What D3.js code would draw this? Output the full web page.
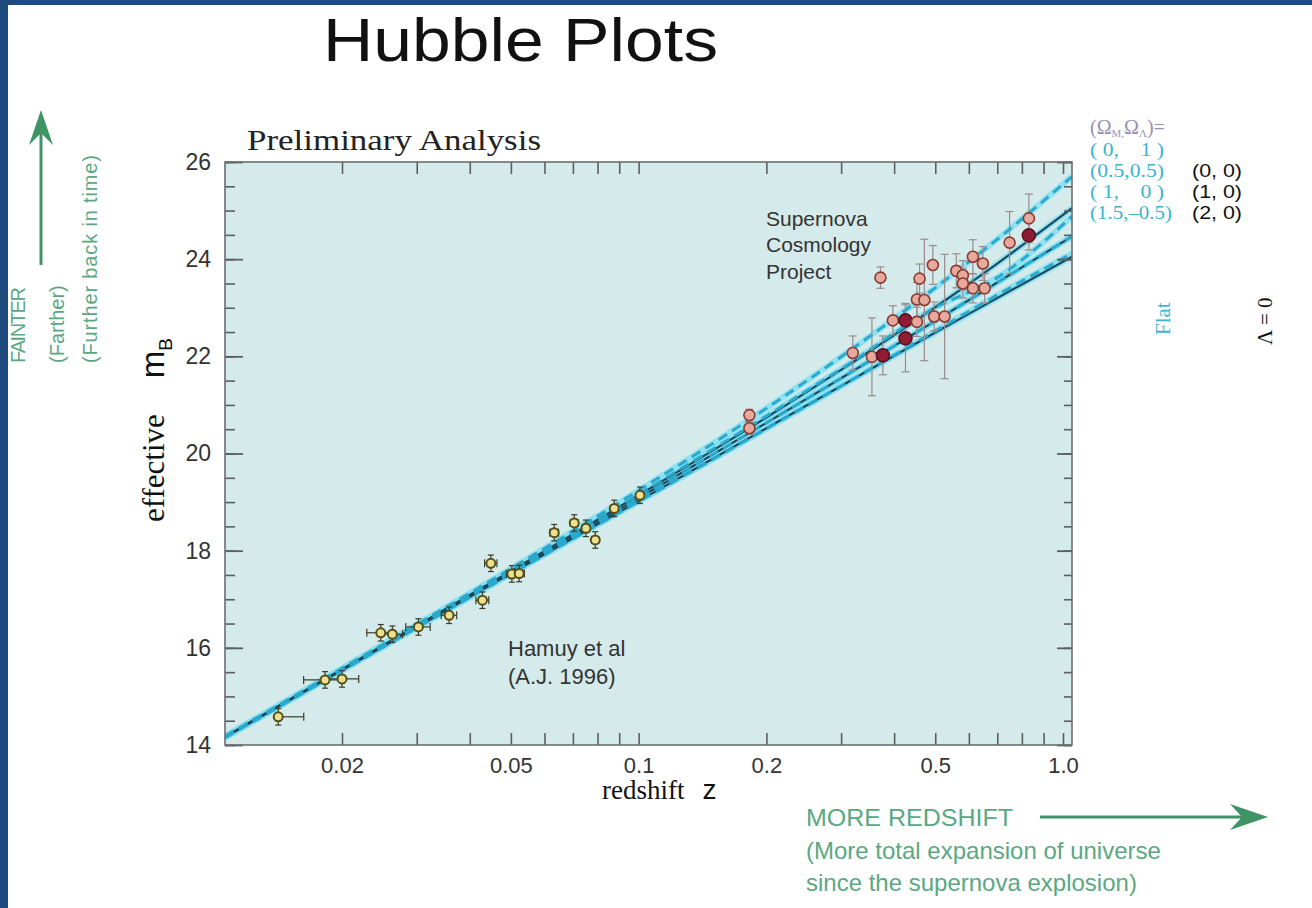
<!DOCTYPE html>
<html><head><meta charset="utf-8">
<script src="https://cdn.jsdelivr.net/npm/d3@7"></script>
<style>body{margin:0;background:#fff}svg{display:block}</style>
</head><body><svg id="c" width="1312" height="908"></svg>
<script>
// ---------- data ----------
const zCurve = [0.0106, 0.02, 0.05, 0.1, 0.2, 0.3, 0.5, 0.7, 1.05];
const flat_0_1    = [14.18, 15.58, 17.63, 19.24, 20.93, 21.99, 23.41, 24.41, 25.70];
const flat_05_05  = [14.17, 15.56, 17.59, 19.16, 20.77, 21.74, 23.00, 23.62, 24.88];
const flat_1_0    = [14.16, 15.55, 17.55, 19.08, 20.63, 21.55, 22.73, 23.52, 24.47];
const flat_15_m05 = [14.15, 15.53, 17.52, 19.01, 20.51, 21.39, 22.52, 23.26, 24.12];
const open_0_0    = [14.17, 15.56, 17.58, 19.14, 20.74, 21.72, 23.01, 23.91, 25.05];
const lam0_1_0    = [14.16, 15.55, 17.55, 19.08, 20.63, 21.55, 22.73, 23.52, 24.47];
const lam0_2_0    = [14.16, 15.54, 17.53, 19.02, 20.52, 21.39, 22.49, 23.20, 24.05];

const hamuyZ = [0.01415,0.01824,0.0200,0.02468,0.02628,0.03027,0.03576,0.04285,0.04485,0.05026,0.05230,0.06325,0.07051,0.07513,0.07903,0.0876,0.1007];
const hamuyM = [14.58,15.34,15.36,16.31,16.28,16.43,16.67,16.98,17.74,17.52,17.53,18.37,18.57,18.46,18.22,18.87,19.14];
const hamuyZErrLo = [0,0.0020,0.0019,0.0018,0.0015,0.0020,0.0015,0.0015,0.0015,0.0015,0.0015,0.0015,0.0015,0.0015,0.0015,0.0015,0.0015];
const hamuyZErrHi = [0.0021,0.0020,0.0019,0.0018,0.0015,0.0020,0.0015,0.0015,0.0015,0.0015,0.0015,0.0015,0.0015,0.0015,0.0015,0.0015,0.0015];
const hamuyMErr = [0.17,0.17,0.17,0.17,0.17,0.17,0.17,0.17,0.17,0.17,0.17,0.17,0.17,0.17,0.17,0.17,0.17];

const scpZ = [0.1824,0.1824,0.3196,0.3546,0.3714,0.3763,0.3973,0.4254,0.4254,0.4527,0.4527,0.4592,0.4713,0.4936,0.497,0.526,0.5604,0.5808,0.5808,0.6133,0.6133,0.6474,0.6536,0.7484,0.831,0.831];
const scpM = [20.79,20.52,22.07,21.99,23.62,22.02,22.74,22.37,22.74,22.71,23.17,23.60,23.16,23.88,22.82,22.82,23.76,23.67,23.50,24.05,23.40,23.91,23.40,24.34,24.84,24.49];
const scpMErr = [0.12,0.12,0.35,0.8,0.22,0.4,0.3,0.69,0.35,0.3,0.35,0.3,1.25,0.4,0.3,1.28,0.35,0.3,0.3,0.35,0.3,0.35,0.3,0.64,0.5,0.3];
const scpFilled = [0,0,0,0,0,1,0,1,1,0,0,0,0,0,0,0,0,0,0,0,0,0,0,0,0,1];

const yTicksMajor = [14,16,18,20,22,24,26];
const xTickLabels = [0.02,0.05,0.1,0.2,0.5,1.0];
const xTickText = ["0.02","0.05","0.1","0.2","0.5","1.0"];
const xTicksAll = [0.02,0.03,0.04,0.05,0.06,0.07,0.08,0.09,0.1,0.2,0.3,0.4,0.5,0.6,0.7,0.8,0.9,1.0];

// ---------- setup ----------
const svg = d3.select("#c");
const L=225, R=1072, T=162, B=745;
const x = d3.scaleLog().domain([0.0106, 1.05]).range([L, R]);
const y = d3.scaleLinear().domain([14, 26]).range([B, T]);
const serif = "Liberation Serif, Times New Roman, serif";
const sans = "Liberation Sans, Arial, sans-serif";

// frame of slide
svg.append("rect").attr("x",0).attr("y",0).attr("width",1312).attr("height",908).attr("fill","#1e4a7e");
svg.append("rect").attr("x",8).attr("y",5).attr("width",1304).attr("height",903).attr("fill","#ffffff");

// title
svg.append("text").attr("x",323).attr("y",61).attr("font-family",sans)
  .attr("font-size",61).attr("fill","#111").attr("textLength",395).attr("lengthAdjust","spacingAndGlyphs").text("Hubble Plots");

// plot background
svg.append("rect").attr("x",L).attr("y",T).attr("width",R-L).attr("height",B-T).attr("fill","#d5eaea");
svg.append("clipPath").attr("id","pc").append("rect").attr("x",L).attr("y",T).attr("width",R-L).attr("height",B-T);

const g = svg.append("g").attr("clip-path","url(#pc)");
const line = d3.line().x(d=>x(d[0])).y(d=>y(d[1])).curve(d3.curveMonotoneX);
const mk = arr => zCurve.map((z,i)=>[z,arr[i]]);

const dashed = [flat_0_1, flat_05_05, flat_1_0, flat_15_m05];
const solid = [open_0_0, lam0_1_0, lam0_2_0];
[...dashed, ...solid].forEach(a=>{
  g.append("path").attr("d",line(mk(a))).attr("fill","none").attr("stroke","#7fe0f2").attr("stroke-width",6).attr("stroke-opacity",0.8);
});
solid.forEach(a=>{
  g.append("path").attr("d",line(mk(a))).attr("fill","none").attr("stroke","#1b4a5e").attr("stroke-width",2.2);
});
dashed.forEach(a=>{
  g.append("path").attr("d",line(mk(a))).attr("fill","none").attr("stroke","#2aa9cc").attr("stroke-width",3).attr("stroke-dasharray","10,6");
});

// Hamuy error bars + points
const hg = svg.append("g");
hamuyZ.forEach((z,i)=>{
  const cx=x(z), cy=y(hamuyM[i]);
  const x0=x(z-hamuyZErrLo[i]), x1=x(z+hamuyZErrHi[i]);
  const y0=y(hamuyM[i]-hamuyMErr[i]), y1=y(hamuyM[i]+hamuyMErr[i]);
  const s="#3c3c2c";
  hg.append("line").attr("x1",x0).attr("x2",x1).attr("y1",cy).attr("y2",cy).attr("stroke",s).attr("stroke-width",1.2);
  if (hamuyZErrLo[i]>0) hg.append("line").attr("x1",x0).attr("x2",x0).attr("y1",cy-4).attr("y2",cy+4).attr("stroke",s).attr("stroke-width",1.2);
  hg.append("line").attr("x1",x1).attr("x2",x1).attr("y1",cy-4).attr("y2",cy+4).attr("stroke",s).attr("stroke-width",1.2);
  hg.append("line").attr("x1",cx).attr("x2",cx).attr("y1",y0).attr("y2",y1).attr("stroke",s).attr("stroke-width",1.2);
  hg.append("line").attr("x1",cx-3).attr("x2",cx+3).attr("y1",y0).attr("y2",y0).attr("stroke",s).attr("stroke-width",1.2);
  hg.append("line").attr("x1",cx-3).attr("x2",cx+3).attr("y1",y1).attr("y2",y1).attr("stroke",s).attr("stroke-width",1.2);
});
hamuyZ.forEach((z,i)=>{
  hg.append("circle").attr("cx",x(z)).attr("cy",y(hamuyM[i])).attr("r",4.5)
    .attr("fill","#ece08e").attr("stroke","#55501a").attr("stroke-width",2);
});

// SCP error bars + points
const sg = svg.append("g");
scpZ.forEach((z,i)=>{
  const cx=x(z);
  const y0=y(scpM[i]-scpMErr[i]), y1=y(scpM[i]+scpMErr[i]);
  const s="#9a8c8c";
  sg.append("line").attr("x1",cx).attr("x2",cx).attr("y1",y0).attr("y2",y1).attr("stroke",s).attr("stroke-width",1.2);
  sg.append("line").attr("x1",cx-4).attr("x2",cx+4).attr("y1",y0).attr("y2",y0).attr("stroke",s).attr("stroke-width",1.2);
  sg.append("line").attr("x1",cx-4).attr("x2",cx+4).attr("y1",y1).attr("y2",y1).attr("stroke",s).attr("stroke-width",1.2);
});
scpZ.forEach((z,i)=>{
  const f = scpFilled[i]===1;
  sg.append("circle").attr("cx",x(z)).attr("cy",y(scpM[i])).attr("r",f?6.5:5.5)
    .attr("fill",f?"#8e1c34":"#e6a99c").attr("stroke",f?"#5a1020":"#8a3a30").attr("stroke-width",1.6);
});

// axes ticks (inside)
const tk = "#5a5f60";
const yMinor = d3.range(14,26.01,0.5);
svg.append("g").attr("transform",`translate(${L},0)`).call(d3.axisLeft(y).tickValues(yMinor).tickSize(-10).tickFormat(""))
  .call(a=>a.select(".domain").remove()).selectAll("line").attr("stroke",tk).attr("stroke-width",1.6);
svg.append("g").attr("transform",`translate(${L},0)`).call(d3.axisLeft(y).tickValues(yTicksMajor).tickSize(-18).tickFormat(""))
  .call(a=>a.select(".domain").remove()).selectAll("line").attr("stroke",tk).attr("stroke-width",1.8);
svg.append("g").attr("transform",`translate(${R},0)`).call(d3.axisRight(y).tickValues(yMinor).tickSize(-8).tickFormat(""))
  .call(a=>a.select(".domain").remove()).selectAll("line").attr("stroke",tk).attr("stroke-width",1.6);
svg.append("g").attr("transform",`translate(${R},0)`).call(d3.axisRight(y).tickValues(yTicksMajor).tickSize(-15).tickFormat(""))
  .call(a=>a.select(".domain").remove()).selectAll("line").attr("stroke",tk).attr("stroke-width",1.8);
svg.append("g").attr("transform",`translate(0,${B})`).call(d3.axisBottom(x).tickValues(xTicksAll).tickSize(-12).tickFormat(""))
  .call(a=>a.select(".domain").remove()).selectAll("line").attr("stroke",tk).attr("stroke-width",1.6);
svg.append("g").attr("transform",`translate(0,${T})`).call(d3.axisTop(x).tickValues(xTicksAll).tickSize(-12).tickFormat(""))
  .call(a=>a.select(".domain").remove()).selectAll("line").attr("stroke",tk).attr("stroke-width",1.6);
svg.append("rect").attr("x",L).attr("y",T).attr("width",R-L).attr("height",B-T).attr("fill","none").attr("stroke","#6a6e70").attr("stroke-width",1.6);

// tick labels
const yl = svg.append("g").attr("transform",`translate(${L},0)`).call(d3.axisLeft(y).tickValues(yTicksMajor).tickSize(0).tickPadding(14).tickFormat(d3.format("d")));
yl.select(".domain").remove();
yl.selectAll("text").attr("font-family",sans).attr("font-size",23).attr("fill","#333");
const xl = svg.append("g").attr("transform",`translate(0,${B})`).call(d3.axisBottom(x).tickValues(xTickLabels).tickSize(0).tickPadding(12).tickFormat((d,i)=>xTickText[i]));
xl.select(".domain").remove();
xl.selectAll("text").attr("font-family",sans).attr("font-size",22).attr("fill","#333");

// axis titles
svg.append("text").attr("x",247).attr("y",150).attr("font-family",serif).attr("font-size",30).attr("fill","#222")
  .attr("textLength",294).attr("lengthAdjust","spacingAndGlyphs").text("Preliminary Analysis");
const xt = svg.append("text").attr("x",602).attr("y",799).attr("font-family",serif).attr("font-size",27).attr("fill","#111");
xt.append("tspan").text("redshift");
xt.append("tspan").attr("dx",18).attr("font-family",sans).attr("font-size",28).text("z");
const yt = svg.append("text").attr("transform","translate(164,522) rotate(-90)").attr("font-family",serif).attr("font-size",31).attr("fill","#111");
yt.append("tspan").text("effective");
yt.append("tspan").attr("dx",36).attr("font-family",sans).attr("font-size",33).text("m");
yt.append("tspan").attr("dy",8).attr("font-family",sans).attr("font-size",19).text("B");

// in-plot labels
[["Supernova",226],["Cosmology",252],["Project",279]].forEach(([t,yy])=>{
  svg.append("text").attr("x",766).attr("y",yy).attr("font-family",sans).attr("font-size",21).attr("fill","#333").text(t);
});
[["Hamuy et al",656],["(A.J. 1996)",684]].forEach(([t,yy])=>{
  svg.append("text").attr("x",508).attr("y",yy).attr("font-family",sans).attr("font-size",22).attr("fill","#333").text(t);
});

// legend right
const lg = svg.append("text").attr("x",1090).attr("y",134).attr("font-family",serif).attr("font-size",20).attr("fill","#9890b4");
lg.append("tspan").text("(Ω");
lg.append("tspan").attr("dy",3).attr("font-size",11).text("M,");
lg.append("tspan").attr("dy",-3).text("Ω");
lg.append("tspan").attr("dy",3).attr("font-size",11).text("Λ");
lg.append("tspan").attr("dy",-3).text(")=");
const cyanTxt = ["( 0,    1 )","(0.5,0.5)","( 1,    0 )","(1.5,–0.5)"];
const blackTxt = ["","(0, 0)","(1, 0)","(2, 0)"];
const legY = [156,177,198,219];
cyanTxt.forEach((t,i)=>{
  svg.append("text").attr("x",1090).attr("y",legY[i]).attr("font-family",serif).attr("font-size",18).attr("fill","#3ab4d0")
    .attr("textLength",i===3?82:74).attr("lengthAdjust","spacingAndGlyphs").style("white-space","pre").text(t);
  if (blackTxt[i]) svg.append("text").attr("x",1192).attr("y",legY[i]).attr("font-family",sans).attr("font-size",18).attr("fill","#111")
    .attr("textLength",50).attr("lengthAdjust","spacingAndGlyphs").text(blackTxt[i]);
});
svg.append("text").attr("transform","translate(1170,335) rotate(-90)").attr("font-family",serif).attr("font-size",21).attr("fill","#3ab4d0").text("Flat");
svg.append("text").attr("transform","translate(1272,345) rotate(-90)").attr("font-family",serif).attr("font-size",21).attr("fill","#111").text("Λ = 0");

// left annotation
const green="#5aa882", dgreen="#3f9466";
svg.append("text").attr("transform","translate(25,363) rotate(-90)").attr("font-family",sans).attr("font-size",20).attr("fill",green).attr("textLength",76).text("FAINTER");
svg.append("text").attr("transform","translate(64,363) rotate(-90)").attr("font-family",sans).attr("font-size",20).attr("fill",green).text("(Farther)");
svg.append("text").attr("transform","translate(97,363) rotate(-90)").attr("font-family",sans).attr("font-size",20).attr("fill",green).attr("textLength",208).text("(Further back in time)");
svg.append("line").attr("x1",41).attr("x2",41).attr("y1",265).attr("y2",120).attr("stroke",dgreen).attr("stroke-width",3);
svg.append("path").attr("d","M29,145 L41,110 L53,145 L41,133 Z").attr("fill",dgreen);

// bottom annotation
svg.append("text").attr("x",806).attr("y",826).attr("font-family",sans).attr("font-size",24).attr("fill",green).attr("textLength",207).attr("lengthAdjust","spacingAndGlyphs").text("MORE REDSHIFT");
svg.append("text").attr("x",806).attr("y",859).attr("font-family",sans).attr("font-size",24).attr("fill",green).text("(More total expansion of universe");
svg.append("text").attr("x",806).attr("y",891).attr("font-family",sans).attr("font-size",24).attr("fill",green).text("since the supernova explosion)");
svg.append("line").attr("x1",1040).attr("x2",1255).attr("y1",817).attr("y2",817).attr("stroke",dgreen).attr("stroke-width",3);
svg.append("path").attr("d","M1230,804 L1268,817 L1230,830 L1242,817 Z").attr("fill",dgreen);
</script></body></html>
